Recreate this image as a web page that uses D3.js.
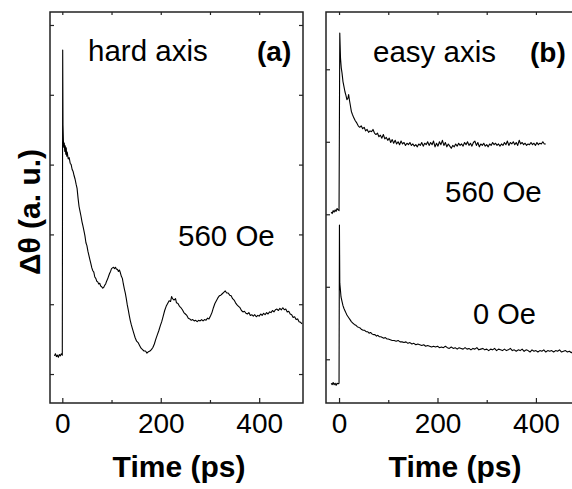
<!DOCTYPE html>
<html>
<head>
<meta charset="utf-8">
<script src="https://cdn.jsdelivr.net/npm/d3@7"></script>
<style>
html,body{margin:0;padding:0;background:#fff;}
svg{display:block;}
text{font-family:"Liberation Sans",Arial,Helvetica,sans-serif;fill:#000;}
</style>
</head>
<body>
<svg id="chart" width="572" height="489"></svg>
<script>
// ---------- DATA ----------
const xMajorTicks = [0, 200, 400];
const xMinorTicks = [100, 300];
const yTicksA = [0, 1, 2, 3, 4, 5];
const yTicksB = [0, 1, 2, 3, 4];

// Panel (a): hard axis, 560 Oe
const hardTime = [-16,-14,-12,-10,-8,-6,-4,-2,0,0.8,1.4,2.2,3,4,5,6,7,8,9,10,12,14,16,18,20,22,24,26,28,30,32,34,36,38,40,42,44,46,48,50,52,54,56,58,60,62,64,66,68,70,72,74,76,78,80,82,84,86,88,90,92,94,96,98,100,102,104,106,108,110,112,114,116,118,120,122,124,126,128,130,132,134,136,138,140,142,145,148,151,154,157,160,163,166,169,172,175,178,181,184,187,190,193,196,199,202,205,208,211,214,217,220,222,224,227,230,232,235,238,241,244,247,250,253,256,259,262,265,268,271,274,277,280,283,286,289,292,295,298,301,304,307,310,313,316,319,322,325,328,331,334,337,340,343,346,349,352,355,358,361,364,367,370,373,376,379,382,385,388,391,394,397,400,403,406,409,412,415,418,421,424,427,430,433,436,439,442,445,448,451,454,457,460,463,466,469,472,475,478,481,484,487];
const hardSignal = [0.26,0.29,0.25,0.27,0.24,0.28,0.26,0.29,0.27,4.64,3.57,3.35,3.25,3.31,3.19,3.27,3.15,3.24,3.12,3.18,3.08,3.10,3.02,3.00,2.93,2.90,2.84,2.79,2.72,2.66,2.52,2.40,2.33,2.26,2.18,2.12,2.05,1.98,1.88,1.84,1.76,1.70,1.64,1.58,1.52,1.48,1.46,1.39,1.37,1.33,1.32,1.29,1.30,1.26,1.25,1.23,1.24,1.27,1.29,1.33,1.36,1.40,1.44,1.47,1.51,1.52,1.53,1.51,1.53,1.50,1.50,1.47,1.49,1.45,1.40,1.37,1.29,1.22,1.16,1.08,0.99,0.92,0.84,0.77,0.71,0.66,0.59,0.52,0.47,0.45,0.41,0.37,0.35,0.33,0.33,0.30,0.32,0.33,0.35,0.38,0.43,0.50,0.56,0.62,0.69,0.75,0.83,0.91,0.97,1.01,1.05,1.04,1.11,1.08,1.06,1.08,1.02,1.01,0.97,0.95,0.92,0.88,0.86,0.84,0.80,0.79,0.77,0.78,0.76,0.77,0.75,0.77,0.76,0.78,0.76,0.78,0.77,0.80,0.79,0.83,0.88,0.95,1.01,1.05,1.09,1.12,1.13,1.15,1.17,1.19,1.16,1.16,1.13,1.12,1.08,1.06,1.02,0.99,0.97,0.95,0.91,0.89,0.90,0.87,0.86,0.88,0.84,0.85,0.83,0.85,0.82,0.84,0.83,0.86,0.84,0.87,0.85,0.88,0.86,0.89,0.88,0.91,0.89,0.92,0.93,0.91,0.94,0.92,0.95,0.92,0.93,0.89,0.90,0.86,0.85,0.81,0.82,0.78,0.79,0.75,0.74,0.72];

// Panel (b): easy axis, 560 Oe
const easyHighTime = [-16,-14,-12,-10,-8,-6,-4,-2,0,1.5,3,4.5,6,8,10,12,14,16,18,19.5,21,23,25,27,30,33,36,39,42,45,48,51,54,57,60,63,66,69,72,75,78,81,84,87,90,93,96,99,102,105,108,111,114,117,120,123,126,129,132,135,138,141,144,147,150,153,156,159,162,165,168,171,174,177,180,183,186,189,192,195,198,201,204,207,210,213,216,219,222,225,228,231,234,237,240,243,246,249,252,255,258,261,264,267,270,273,276,279,282,285,288,291,294,297,300,303,306,309,312,315,318,321,324,327,330,333,336,339,342,345,348,351,354,357,360,363,366,369,372,375,378,381,384,387,390,393,396,399,402,405,408,411,414,417,420];
const easyHighSignal = [2.03,2.01,2.05,2.03,2.06,2.04,2.08,2.06,2.05,4.50,4.15,4.02,3.95,3.83,3.76,3.69,3.64,3.58,3.60,3.65,3.58,3.50,3.42,3.38,3.33,3.29,3.26,3.22,3.20,3.22,3.18,3.20,3.15,3.17,3.13,3.15,3.14,3.17,3.12,3.10,3.12,3.07,3.09,3.05,3.10,3.04,3.06,3.02,3.05,2.99,3.03,2.98,3.02,2.97,3.00,2.96,3.01,2.97,2.99,2.95,2.98,2.96,2.99,2.95,2.97,2.94,2.96,2.93,2.97,2.95,2.99,2.94,2.98,2.96,3.00,2.95,2.99,2.96,3.01,2.93,2.98,2.94,3.00,2.96,3.02,2.95,2.99,2.93,2.97,2.94,2.91,2.95,2.93,2.97,2.94,2.98,2.95,2.97,2.94,2.99,2.96,3.00,2.95,2.98,2.94,2.99,3.01,2.95,2.99,2.93,2.97,2.95,2.98,2.94,2.96,2.93,2.97,2.95,2.99,2.96,2.98,2.95,2.97,2.94,2.97,2.95,2.99,2.96,3.01,2.95,2.99,2.97,3.00,2.96,2.99,2.95,3.02,2.97,2.99,2.96,2.98,2.95,2.97,2.96,2.99,2.96,2.98,2.95,2.99,2.96,2.98,2.97,3.00,2.97,2.97];

// Panel (b): easy axis, 0 Oe
const easyZeroTime = [-16,-14,-12,-10,-8,-6,-4,-2,0,0.8,1.5,2.5,4,6,8,10,12,14,16,18,20,22,25,28,31,34,37,40,43,46,49,52,55,58,61,64,67,70,73,76,79,82,85,88,91,94,97,100,104,108,112,116,120,124,128,132,136,140,144,148,152,156,160,164,168,172,176,180,184,188,192,196,200,204,208,212,216,220,224,228,232,236,240,244,248,252,256,260,264,268,272,276,280,284,288,292,296,300,304,308,312,316,320,324,328,332,336,340,344,348,352,356,360,364,368,372,376,380,384,388,392,396,400,404,408,412,416,420,424,428,432,436,440,444,448,452,456,460,464,468,472,476,480,484];
const easyZeroSignal = [-0.33,-0.35,-0.32,-0.35,-0.33,-0.36,-0.33,-0.34,-0.33,1.85,1.05,0.98,0.86,0.80,0.74,0.70,0.67,0.64,0.61,0.59,0.57,0.55,0.52,0.50,0.48,0.47,0.45,0.44,0.43,0.41,0.40,0.40,0.38,0.38,0.36,0.37,0.35,0.34,0.34,0.32,0.33,0.31,0.31,0.30,0.29,0.30,0.28,0.28,0.27,0.26,0.26,0.25,0.26,0.24,0.24,0.23,0.24,0.22,0.23,0.21,0.22,0.20,0.21,0.20,0.19,0.20,0.18,0.19,0.18,0.17,0.18,0.17,0.18,0.16,0.17,0.16,0.18,0.16,0.15,0.17,0.15,0.16,0.14,0.16,0.15,0.14,0.16,0.14,0.15,0.13,0.15,0.14,0.16,0.13,0.14,0.15,0.13,0.14,0.12,0.14,0.13,0.15,0.12,0.14,0.13,0.12,0.14,0.12,0.13,0.15,0.12,0.13,0.11,0.13,0.12,0.14,0.11,0.13,0.12,0.10,0.13,0.11,0.12,0.10,0.12,0.11,0.13,0.10,0.12,0.11,0.12,0.10,0.12,0.11,0.13,0.10,0.11,0.12,0.10,0.11,0.09,0.11,0.10,0.10];

// ---------- DRAW ----------
const svg = d3.select("#chart");
const plotTop = 12, plotBottom = 403;
const frameColor = "#222";

function makePanel(x0, x1, xDomain, yDomain, yTicks, rightTicks) {
  const x = d3.scaleLinear().domain(xDomain).range([x0, x1]);
  const y = d3.scaleLinear().domain(yDomain).range([plotBottom, plotTop]);
  const g = svg.append("g");
  const style = sel => {
    sel.select(".domain").remove();
    sel.selectAll("line").attr("stroke", frameColor).attr("stroke-width", 1.2);
    sel.selectAll("text").attr("font-size", 28).attr("font-family", '"Liberation Sans", Arial, sans-serif').attr("fill", "#000");
  };
  g.append("g").attr("transform", `translate(0,${plotBottom})`)
    .call(d3.axisBottom(x).tickValues(xMajorTicks).tickSize(-5).tickPadding(10).tickFormat(d3.format("d")))
    .call(style);
  g.append("g").attr("transform", `translate(0,${plotBottom})`)
    .call(d3.axisBottom(x).tickValues(xMinorTicks).tickSize(-3).tickFormat(""))
    .call(style);
  g.append("g").attr("transform", `translate(0,${plotTop})`)
    .call(d3.axisTop(x).tickValues(xMajorTicks.concat(xMinorTicks)).tickSize(-3).tickFormat(""))
    .call(style);
  g.append("g").attr("transform", `translate(${x0},0)`)
    .call(d3.axisLeft(y).tickValues(yTicks).tickSize(-4).tickFormat(""))
    .call(style);
  if (rightTicks) {
    g.append("g").attr("transform", `translate(${x1},0)`)
      .call(d3.axisRight(y).tickValues(yTicks).tickSize(-4).tickFormat(""))
      .call(style);
  }
  g.append("rect").attr("x", x0).attr("y", plotTop).attr("width", x1 - x0).attr("height", plotBottom - plotTop)
    .attr("fill", "none").attr("stroke", frameColor).attr("stroke-width", 1.5);
  return {x, y, g};
}

function drawCurve(p, ts, vs) {
  const n = Math.min(ts.length, vs.length);
  const pts = ts.slice(0, n).map((t, i) => [t, vs[i]]);
  p.g.append("path").datum(pts)
    .attr("fill", "none").attr("stroke", "#000").attr("stroke-width", 1.1)
    .attr("stroke-linejoin", "round")
    .attr("d", d3.line().x(d => p.x(d[0])).y(d => p.y(d[1])));
}

const pa = makePanel(50, 303, [-25, 489], [-0.415, 5.186], yTicksA, true);
drawCurve(pa, hardTime, hardSignal);

const pb = makePanel(326, 579, [-26.5, 487.5], [-0.603, 4.79], yTicksB, true);
drawCurve(pb, easyHighTime, easyHighSignal);
drawCurve(pb, easyZeroTime, easyZeroSignal);

// ---------- TEXT ----------
const txt = (s, x, y, size, weight) => svg.append("text").attr("x", x).attr("y", y)
  .attr("font-size", size).attr("font-weight", weight || "normal").text(s);

txt("hard axis", 88, 61, 29.5);
txt("(a)", 257, 61, 28, "bold");
txt("560 Oe", 178, 246, 29.5);
txt("easy axis", 373, 62, 29.5);
txt("(b)", 530, 62, 28, "bold");
txt("560 Oe", 445, 202, 29.5);
txt("0 Oe", 473, 324, 29);

svg.append("text").attr("x", 179).attr("y", 477).attr("text-anchor", "middle")
  .attr("font-size", 30).attr("font-weight", "bold").text("Time (ps)");
svg.append("text").attr("x", 455).attr("y", 477).attr("text-anchor", "middle")
  .attr("font-size", 30).attr("font-weight", "bold").text("Time (ps)");

svg.append("text").attr("transform", "translate(40,212) rotate(-90)").attr("text-anchor", "middle")
  .attr("font-size", 30).attr("font-weight", "bold").text("Δθ (a. u.)");
</script>
</body>
</html>
